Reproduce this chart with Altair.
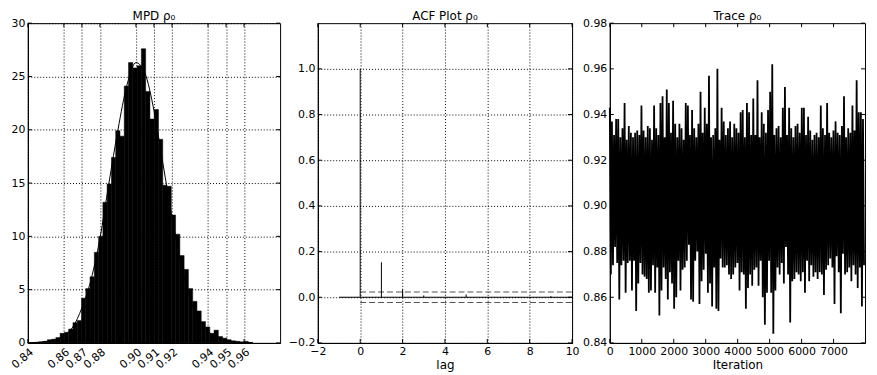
import altair as alt
import pandas as pd

FONT = "DejaVu Sans"

# ---------------- data ----------------
titles = ["MPD ρ₀", "ACF Plot ρ₀", "Trace ρ₀"]

# Histogram (MPD) : equal-width bins
hist_bin_start = 0.8413
hist_bin_width = 0.002373
hist_counts = [0.03, 0.05, 0.1, 0.15, 0.3, 0.35, 0.5, 0.9, 1.0, 1.3,
               1.9, 2.1, 4.2, 5.1, 6.2, 8.5, 10.0, 13.2, 14.9, 17.4,
               19.9, 19.4, 24.1, 26.3, 25.8, 26.0, 27.6, 23.6, 21.0, 21.9,
               19.1, 14.8, 14.7, 12.0, 10.2, 8.2, 6.9, 5.1, 3.9, 3.0,
               2.0, 1.5, 0.9, 1.2, 0.6, 0.45, 0.3, 0.2, 0.15, 0.1,
               0.15, 0.05]
dens_x = [0.840, 0.845, 0.850, 0.855, 0.860, 0.865, 0.870, 0.875, 0.880, 0.885,
          0.890, 0.895, 0.900, 0.905, 0.910, 0.915, 0.920, 0.925, 0.930, 0.935,
          0.940, 0.945, 0.950, 0.955, 0.960, 0.965]
dens_y = [0.02, 0.05, 0.12, 0.3, 0.7, 1.5, 3.3, 5.9, 9.8, 15.0,
          20.0, 24.2, 26.3, 25.3, 21.8, 16.8, 11.8, 7.4, 4.2, 2.2,
          1.1, 0.5, 0.22, 0.09, 0.04, 0.015]
hist_tick_values = [0.84, 0.86, 0.87, 0.88, 0.90, 0.91, 0.92, 0.94, 0.95, 0.96]
hist_y_ticks = [0, 5, 10, 15, 20, 25, 30]

# ACF
acf_lag = [0, 1, 2, 3, 4, 5, 6, 7, 8, 9]
acf_val = [1.0, 0.153, 0.035, 0.008, -0.002, 0.012, -0.001, 0.001, -0.002, 0.005]
acf_conf = 0.023
acf_x_ticks = [-2, 0, 2, 4, 6, 8, 10]
acf_y_ticks = [-0.2, 0.0, 0.2, 0.4, 0.6, 0.8, 1.0]

# Trace : upper spikes and lower spikes, alternating along the chain
trace_upper = [0.943, 0.937, 0.931, 0.938, 0.938, 0.930, 0.934, 0.945, 0.929, 0.935,
               0.932, 0.930, 0.932, 0.933, 0.931, 0.944, 0.933, 0.930, 0.935, 0.934,
               0.929, 0.944, 0.934, 0.931, 0.945, 0.948, 0.930, 0.951, 0.945, 0.932,
               0.946, 0.936, 0.930, 0.936, 0.934, 0.929, 0.945, 0.944, 0.931, 0.942,
               0.934, 0.930, 0.936, 0.950, 0.932, 0.943, 0.936, 0.957, 0.930, 0.931,
               0.934, 0.960, 0.929, 0.943, 0.937, 0.931, 0.934, 0.937, 0.930, 0.936,
               0.934, 0.932, 0.941, 0.942, 0.930, 0.945, 0.941, 0.931, 0.947, 0.931,
               0.955, 0.930, 0.941, 0.936, 0.932, 0.942, 0.950, 0.962, 0.931, 0.934,
               0.935, 0.930, 0.943, 0.952, 0.931, 0.943, 0.934, 0.930, 0.935, 0.936,
               0.932, 0.943, 0.943, 0.931, 0.939, 0.933, 0.929, 0.931, 0.932, 0.930,
               0.944, 0.934, 0.931, 0.945, 0.932, 0.930, 0.933, 0.937, 0.932, 0.931,
               0.935, 0.948, 0.930, 0.934, 0.932, 0.944, 0.933, 0.955, 0.941, 0.941,
               0.938]
trace_lower = [0.870, 0.874, 0.882, 0.875, 0.859, 0.874, 0.876, 0.862, 0.875, 0.876,
               0.863, 0.876, 0.854, 0.866, 0.875, 0.870, 0.869, 0.868, 0.862, 0.863,
               0.874, 0.862, 0.873, 0.852, 0.863, 0.873, 0.868, 0.859, 0.871, 0.866,
               0.855, 0.860, 0.876, 0.863, 0.872, 0.873, 0.876, 0.883, 0.859, 0.858,
               0.876, 0.880, 0.857, 0.867, 0.872, 0.879, 0.862, 0.866, 0.856, 0.873,
               0.855, 0.854, 0.877, 0.873, 0.873, 0.874, 0.870, 0.868, 0.870, 0.873,
               0.875, 0.863, 0.871, 0.870, 0.855, 0.864, 0.870, 0.865, 0.872, 0.873,
               0.865, 0.876, 0.860, 0.848, 0.862, 0.876, 0.862, 0.844, 0.863, 0.873,
               0.870, 0.875, 0.866, 0.882, 0.870, 0.849, 0.867, 0.868, 0.871, 0.870,
               0.867, 0.871, 0.862, 0.876, 0.867, 0.874, 0.869, 0.871, 0.868, 0.871,
               0.870, 0.861, 0.872, 0.874, 0.877, 0.873, 0.857, 0.878, 0.871, 0.853,
               0.879, 0.870, 0.871, 0.873, 0.867, 0.874, 0.870, 0.864, 0.873, 0.856,
               0.874]
trace_step = 33
trace_x_ticks = [0, 1000, 2000, 3000, 4000, 5000, 6000, 7000]
trace_y_ticks = [0.84, 0.86, 0.88, 0.90, 0.92, 0.94, 0.96, 0.98]

# ---------------- tables ----------------
hist_df = pd.DataFrame({
    "x0": [hist_bin_start + i * hist_bin_width for i in range(len(hist_counts))],
    "x1": [hist_bin_start + (i + 1) * hist_bin_width for i in range(len(hist_counts))],
    "count": hist_counts,
    "base": [0.0] * len(hist_counts),
})
dens_df = pd.DataFrame({"x": dens_x, "d": dens_y})
acf_df = pd.DataFrame({"lag": acf_lag, "acf": acf_val, "zero": [0.0] * len(acf_lag)})
trace_vals = []
for u, l in zip(trace_upper, trace_lower):
    trace_vals += [u, l]
trace_df = pd.DataFrame({"it": [i * trace_step for i in range(len(trace_vals))],
                         "v": trace_vals})

TICK = 4


def axis(values, fmt, grid, **kw):
    return alt.Axis(values=values, format=fmt, grid=grid, ticks=False,
                    labelOverlap=False, labelFlush=False, labelBound=False,
                    labelSeparation=0, **kw)


class Panel:
    def __init__(self, xscale, yscale, xaxis, yaxis, xtitle, w, h):
        self.xs, self.ys, self.xa, self.ya, self.xt, self.w, self.h = \
            xscale, yscale, xaxis, yaxis, xtitle, w, h

    def X(self, field):
        return alt.X(field, scale=self.xs, axis=self.xa, title=self.xt)

    def Y(self, field):
        return alt.Y(field, scale=self.ys, axis=self.ya, title=None)

    def ticks(self, xvals, yvals):
        xd = pd.DataFrame({"tv": xvals})
        yd = pd.DataFrame({"tv": yvals})
        base = dict(color="black", strokeWidth=1)
        w, h = self.w, self.h
        return [
            alt.Chart(xd).mark_rule(**base).encode(x=self.X("tv:Q"), y=alt.value(0), y2=alt.value(TICK)),
            alt.Chart(xd).mark_rule(**base).encode(x=self.X("tv:Q"), y=alt.value(h), y2=alt.value(h - TICK)),
            alt.Chart(yd).mark_rule(**base).encode(y=self.Y("tv:Q"), x=alt.value(0), x2=alt.value(TICK)),
            alt.Chart(yd).mark_rule(**base).encode(y=self.Y("tv:Q"), x=alt.value(w), x2=alt.value(w - TICK)),
        ]

    def title(self, text):
        return alt.Chart(pd.DataFrame({"t": [text]})).mark_text(
            font=FONT, fontSize=12, color="black", align="center", baseline="alphabetic"
        ).encode(text="t:N", x=alt.value(self.w / 2), y=alt.value(-3))


H = 322

# ---------------- panel 1: histogram ----------------
W1 = 254
P1 = Panel(alt.Scale(domain=[0.84, 0.98], nice=False, zero=False),
           alt.Scale(domain=[0, 30], nice=False),
           axis(hist_tick_values, ".2f", True, labelAngle=-40, labelAlign="right", labelBaseline="top"),
           axis(hist_y_ticks, "d", True), None, W1, H)
bars = alt.Chart(hist_df).mark_rect(color="black", stroke="black", strokeWidth=0.5).encode(
    x=P1.X("x0:Q"), x2="x1:Q", y=P1.Y("count:Q"), y2="base:Q")
dens = alt.Chart(dens_df).mark_line(color="black", strokeWidth=1, interpolate="monotone").encode(
    x=P1.X("x:Q"), y=P1.Y("d:Q"))
p1 = alt.layer(bars, dens, *P1.ticks(hist_tick_values, hist_y_ticks), P1.title(titles[0])).properties(
    width=W1, height=H)

# ---------------- panel 2: ACF ----------------
W2 = 256
P2 = Panel(alt.Scale(domain=[-2, 10], nice=False, zero=False),
           alt.Scale(domain=[-0.2, 1.2], nice=False, zero=False),
           axis(acf_x_ticks, "d", True), axis(acf_y_ticks, ".1f", True), "lag", W2, H)
acf_base = pd.DataFrame({"a": [-1.0], "b": [10.0], "y": [0.0]})
conf_df = pd.DataFrame({"a": [0.0, 0.0], "b": [10.0, 10.0], "y": [acf_conf, -acf_conf]})
baseline = alt.Chart(acf_base).mark_rule(color="black", strokeWidth=1.2).encode(
    x=P2.X("a:Q"), x2="b:Q", y=P2.Y("y:Q"))
conf = alt.Chart(conf_df).mark_rule(color="#555555", strokeWidth=1.2, strokeDash=[6, 3]).encode(
    x=P2.X("a:Q"), x2="b:Q", y=P2.Y("y:Q"))
stems = alt.Chart(acf_df).mark_rule(color="black", strokeWidth=1).encode(
    x=P2.X("lag:Q"), y=P2.Y("zero:Q"), y2="acf:Q")
p2 = alt.layer(baseline, conf, stems, *P2.ticks(acf_x_ticks, acf_y_ticks), P2.title(titles[1])).properties(
    width=W2, height=H)

# ---------------- panel 3: trace ----------------
W3 = 257
P3 = Panel(alt.Scale(domain=[0, 7984], nice=False, zero=False),
           alt.Scale(domain=[0.84, 0.98], nice=False, zero=False),
           axis(trace_x_ticks, "d", False), axis(trace_y_ticks, ".2f", False), "Iteration", W3, H)
trace = alt.Chart(trace_df).mark_line(color="black", strokeWidth=1.8).encode(
    x=P3.X("it:Q"), y=P3.Y("v:Q"))
p3 = alt.layer(trace, *P3.ticks(trace_x_ticks, trace_y_ticks), P3.title(titles[2])).properties(
    width=W3, height=H)

chart = alt.hconcat(p1, p2, p3, spacing=38, bounds="flush").properties(
    padding={"left": 0, "top": 0, "right": 0, "bottom": 0},
    autosize=alt.AutoSizeParams(type="pad"),
).configure_view(stroke="black", strokeWidth=1).configure_axis(
    labelFont=FONT, labelFontSize=11, labelColor="black", labelPadding=3,
    titleFont=FONT, titleFontSize=12, titleFontWeight="normal", titleColor="black",
    titlePadding=3, domainColor="black", domainWidth=1,
    gridColor="black", gridDash=[1, 2], gridWidth=1, gridOpacity=1,
)

chart.save("out.html", embed_options={"renderer": "svg", "actions": False})
